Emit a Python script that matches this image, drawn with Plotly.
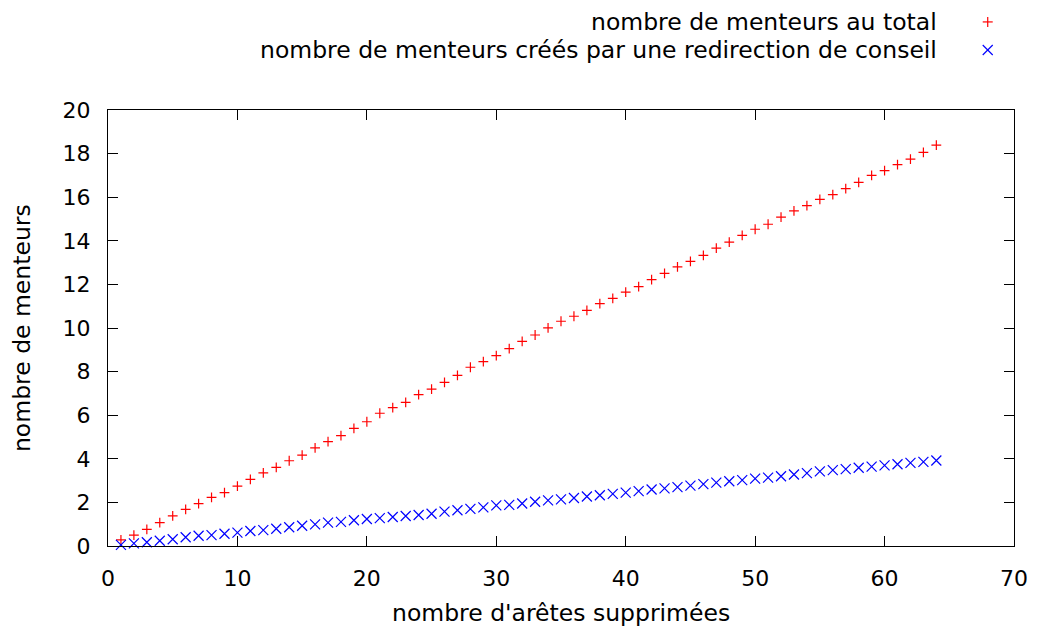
import plotly.graph_objects as go

# Data
aretes_supprimees = list(range(1, 65))

menteurs_total = [
    0.28, 0.50, 0.76, 1.07, 1.38, 1.68, 1.94, 2.23, 2.45, 2.75,
    3.06, 3.35, 3.61, 3.91, 4.17, 4.50, 4.79, 5.06, 5.40, 5.70,
    6.09, 6.35, 6.59, 6.94, 7.20, 7.51, 7.83, 8.20, 8.46, 8.73,
    9.05, 9.39, 9.68, 10.01, 10.31, 10.54, 10.81, 11.12, 11.36, 11.65,
    11.90, 12.22, 12.51, 12.80, 13.06, 13.33, 13.66, 13.94, 14.25, 14.53,
    14.76, 15.09, 15.37, 15.61, 15.90, 16.12, 16.39, 16.68, 17.00, 17.22,
    17.49, 17.75, 18.06, 18.39,
]

menteurs_redirection = [
    0.05, 0.12, 0.17, 0.24, 0.31, 0.40, 0.47, 0.50, 0.56, 0.61,
    0.69, 0.73, 0.79, 0.86, 0.93, 0.99, 1.07, 1.11, 1.18, 1.24,
    1.28, 1.33, 1.375, 1.42, 1.48, 1.58, 1.64, 1.70, 1.77, 1.86,
    1.89, 1.95, 2.03, 2.09, 2.14, 2.20, 2.27, 2.33, 2.39, 2.45,
    2.52, 2.59, 2.64, 2.70, 2.77, 2.84, 2.91, 2.97, 3.02, 3.09,
    3.14, 3.20, 3.28, 3.34, 3.42, 3.48, 3.53, 3.59, 3.64, 3.70,
    3.75, 3.81, 3.86, 3.92,
]

label_total = "nombre de menteurs au total"
label_redir = "nombre de menteurs créés par une redirection de conseil"
x_title = "nombre d'arêtes supprimées"
y_title = "nombre de menteurs"

x_ticks = [0, 10, 20, 30, 40, 50, 60, 70]
y_ticks = [0, 2, 4, 6, 8, 10, 12, 14, 16, 18, 20]

RED = "#ff0000"
BLUE = "#0000ff"
FONT = "DejaVu Sans"
FS_TICK = 22
FS_TEXT = 23.5

fig = go.Figure()
fig.add_trace(go.Scatter(
    x=aretes_supprimees, y=menteurs_total, mode="markers", name=label_total,
    marker=dict(symbol="cross-thin", size=7, line=dict(color=RED, width=1.2), color=RED),
    cliponaxis=False,
))
fig.add_trace(go.Scatter(
    x=aretes_supprimees, y=menteurs_redirection, mode="markers", name=label_redir,
    marker=dict(symbol="x-thin", size=10, line=dict(color=BLUE, width=1.2), color=BLUE),
    cliponaxis=False,
))

axis_common = dict(
    showline=True, linecolor="black", linewidth=1, mirror="ticks",
    ticks="inside", ticklen=10, tickwidth=1, tickcolor="black",
    showgrid=False, zeroline=False,
    tickfont=dict(family=FONT, size=FS_TICK, color="black"),
)

fig.update_xaxes(range=[0, 70], tickvals=x_ticks, ticklabelstandoff=13, **axis_common)
fig.update_yaxes(range=[0, 20], tickvals=y_ticks, ticklabelstandoff=12, **axis_common)

# Legend (gnuplot style: right-aligned text, key symbol on the right)
legend_text_x = 0.9172
legend_sym_x = 0.971
legend_y = [1.202, 1.1376]
annotations = [
    dict(text=label_total, x=legend_text_x, y=legend_y[0], xref="paper", yref="paper",
         xanchor="right", yanchor="middle", showarrow=False,
         font=dict(family=FONT, size=FS_TEXT, color="black")),
    dict(text=label_redir, x=legend_text_x, y=legend_y[1], xref="paper", yref="paper",
         xanchor="right", yanchor="middle", showarrow=False,
         font=dict(family=FONT, size=FS_TEXT, color="black")),
    dict(text=x_title, x=0.5, y=-0.1537, xref="paper", yref="paper",
         xanchor="center", yanchor="middle", showarrow=False,
         font=dict(family=FONT, size=FS_TEXT, color="black")),
    dict(text=y_title, x=-0.0949, y=0.5, xref="paper", yref="paper", textangle=-90,
         xanchor="center", yanchor="middle", showarrow=False,
         font=dict(family=FONT, size=FS_TEXT, color="black")),
]

shapes = []
h = 5
# "+" key
for (x0, y0, x1, y1) in [(-h, 0, h, 0), (0, -h, 0, h)]:
    shapes.append(dict(type="line", xref="paper", yref="paper",
                       xsizemode="pixel", ysizemode="pixel",
                       xanchor=legend_sym_x, yanchor=legend_y[0],
                       x0=x0, x1=x1, y0=y0, y1=y1, line=dict(color=RED, width=1.2)))
# "x" key
for (x0, y0, x1, y1) in [(-h, -h, h, h), (-h, h, h, -h)]:
    shapes.append(dict(type="line", xref="paper", yref="paper",
                       xsizemode="pixel", ysizemode="pixel",
                       xanchor=legend_sym_x, yanchor=legend_y[1],
                       x0=x0, x1=x1, y0=y0, y1=y1, line=dict(color=BLUE, width=1.2)))

fig.update_layout(
    width=1038, height=627,
    margin=dict(l=108, r=24, t=110, b=81, autoexpand=False),
    plot_bgcolor="white", paper_bgcolor="white",
    showlegend=False,
    annotations=annotations,
    shapes=shapes,
    font=dict(family=FONT, size=FS_TICK, color="black"),
    hovermode=False,
)

fig.write_html(
    "out.html",
    config={"displayModeBar": False, "staticPlot": True},
    post_script="document.body.style.margin='0';document.body.style.overflow='hidden';",
)
